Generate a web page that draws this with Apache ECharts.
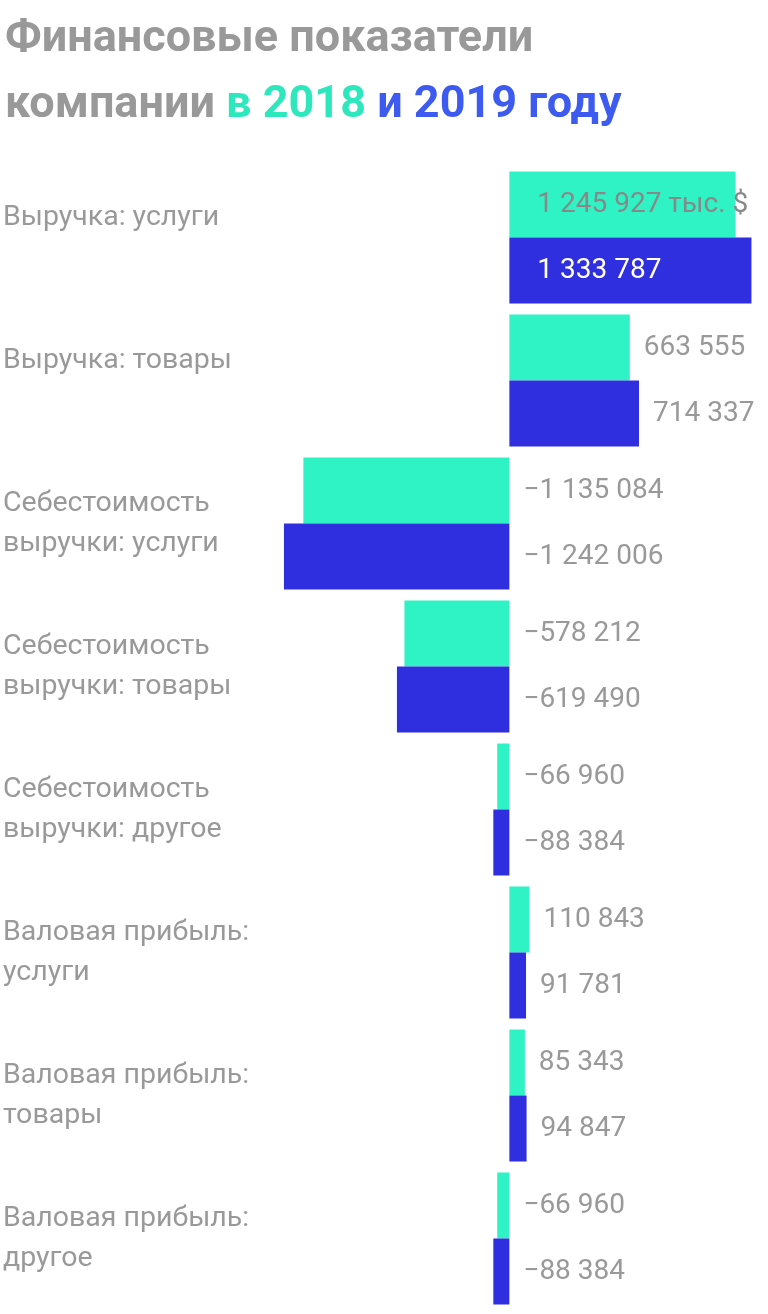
<!DOCTYPE html><html><head><meta charset="utf-8">
<script src="https://cdn.jsdelivr.net/npm/echarts@6/dist/echarts.min.js"></script>
<style>html,body{margin:0;background:#fff}#c{width:768px;height:1314px}</style></head><body><div id="c"></div>
<script>
const categories=["Выручка: услуги","Выручка: товары","Себестоимость\nвыручки: услуги","Себестоимость\nвыручки: товары","Себестоимость\nвыручки: другое","Валовая прибыль:\nуслуги","Валовая прибыль:\nтовары","Валовая прибыль:\nдругое"];
const values2018=[1245927,663555,-1135084,-578212,-66960,110843,85343,-66960];
const values2019=[1333787,714337,-1242006,-619490,-88384,91781,94847,-88384];
const fmt=v=>(v<0?'−':'')+Math.abs(v).toString().replace(/\B(?=(\d{3})+(?!\d))/g,' ');
function mk(vals,firstColor,suffix){
 return vals.map((v,i)=>{
  let lab;
  if(i===0) lab={position:'insideLeft',offset:[14,0],color:firstColor,formatter:fmt(v)+suffix};
  else if(v<0) lab={position:'insideRight',align:'left',offset:[28,0],formatter:fmt(v)};
  else lab={position:'right',offset:[0,0],formatter:fmt(v)};
  return {value:v,label:lab};
 });
}
const chart=echarts.init(document.getElementById('c'));
const tf={fontSize:45,fontWeight:'bold',lineHeight:66,fontFamily:'Roboto'};
chart.setOption({
 animation:false,
 textStyle:{fontFamily:'Roboto'},
 title:{left:0,top:2,text:'{g|Финансовые показатели}\n{g|компании }{a|в 2018 }{b|и 2019 году}',
  textStyle:{rich:{g:Object.assign({color:'#999'},tf),a:Object.assign({color:'#2ee8bd'},tf),b:Object.assign({color:'#3d5af1'},tf)}}},
 grid:{left:0,right:0,top:166,bottom:4},
 xAxis:{type:'value',min:-2790000,max:1425000,show:false},
 yAxis:{type:'category',inverse:true,data:categories,axisLine:{show:false},axisTick:{show:false},
  axisLabel:{inside:true,align:'left',color:'#999',fontSize:28.5,lineHeight:40,verticalAlign:'middle',margin:0,
   formatter:v=>v.indexOf('\n')<0?v+'\n ':v}},
 series:[
  {type:'bar',data:mk(values2018,'#888',' тыс. $'),itemStyle:{color:'#2ff3c5'},barWidth:66,barGap:'0%',
   label:{show:true,color:'#999',fontSize:28,distance:14}},
  {type:'bar',data:mk(values2019,'#fff',''),itemStyle:{color:'#2f2fe0'},barWidth:66,barGap:'0%',
   label:{show:true,color:'#999',fontSize:28,distance:14}}
 ]
});
</script></body></html>
